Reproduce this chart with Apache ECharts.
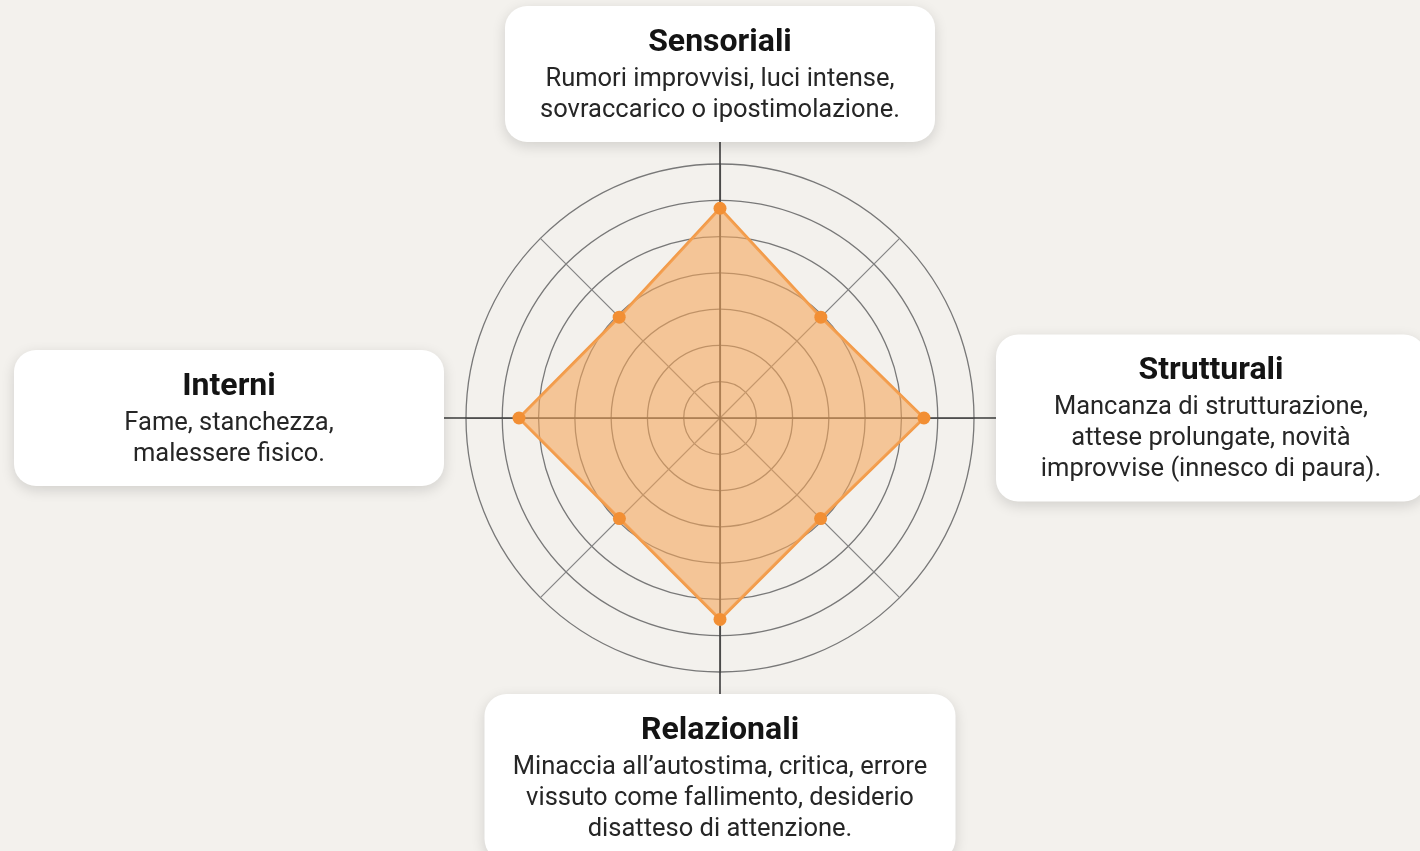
<!DOCTYPE html>
<html>
<head>
<meta charset="utf-8">
<title>Fattori scatenanti</title>
<script src="https://cdn.jsdelivr.net/npm/echarts@6/dist/echarts.min.js"></script>
<style>
    html, body { margin: 0; padding: 0; background: #f3f1ed; }
    #chart { width: 1420px; height: 851px; }
</style>
</head>
<body>
<div id="chart"></div>
<script>
// 8 spokes, counterclockwise from the top
const spokes = ['Sensoriali', 'Sensoriali-Interni', 'Interni', 'Interni-Relazionali',
    'Relazionali', 'Relazionali-Strutturali', 'Strutturali', 'Strutturali-Sensoriali'];
const values = [5.78, 3.93, 5.54, 3.92, 5.55, 3.92, 5.62, 3.93];
const maxValue = 7;
const rings = 7;

// the four labelled axes
const titles = ['Sensoriali', 'Interni', 'Relazionali', 'Strutturali'];
const descriptions = {
    'Sensoriali': ['Rumori improvvisi, luci intense,', 'sovraccarico o ipostimolazione.'],
    'Interni': ['Fame, stanchezza,', 'malessere fisico.'],
    'Relazionali': ['Minaccia all\u2019autostima, critica, errore', 'vissuto come fallimento, desiderio', 'disatteso di attenzione.'],
    'Strutturali': ['Mancanza di strutturazione,', 'attese prolungate, novit\u00e0', 'improvvise (innesco di paura).']
};
const wideBoxes = ['Relazionali'];

document.addEventListener('DOMContentLoaded', () => {
    const chart = echarts.init(document.querySelector('#chart'));

    const titleStyle = { fontFamily: 'Roboto', fontWeight: 'bold', fontSize: 32, lineHeight: 43, color: '#141414', align: 'center' };
    const descStyle = { fontFamily: 'Roboto', fontSize: 25.5, lineHeight: 31, color: '#262626', align: 'center' };

    chart.setOption({
        backgroundColor: '#f3f1ed',
        animation: false,
        radar: [{
            center: [720, 418],
            radius: 254,
            startAngle: 90,
            shape: 'circle',
            splitNumber: rings,
            indicator: spokes.map(n => ({ name: n, min: 0, max: maxValue })),
            axisName: { show: false },
            axisLine: { lineStyle: { color: '#858585', width: 1.2 } },
            splitLine: { lineStyle: { color: '#787878', width: 1.3 } },
            splitArea: { show: false },
            axisTick: { show: false },
            axisLabel: { show: false }
        }, {
            center: [720, 418],
            radius: 276,
            startAngle: 90,
            shape: 'circle',
            indicator: titles.map(n => ({ name: n, min: 0, max: maxValue })),
            nameGap: 0,
            axisName: {
                formatter: (name) => {
                    const w = wideBoxes.includes(name) ? 'w' : '';
                    return ['{t' + w + '|' + name + '}']
                        .concat(descriptions[name].map(l => '{d' + w + '|' + l + '}'))
                        .join('\n');
                },
                backgroundColor: '#ffffff',
                borderRadius: 22,
                padding: [15, 0, 16, 0],
                shadowColor: 'rgba(0,0,0,0.14)',
                shadowBlur: 14,
                shadowOffsetY: 4,
                rich: {
                    t: Object.assign({ width: 430 }, titleStyle),
                    d: Object.assign({ width: 430 }, descStyle),
                    tw: Object.assign({ width: 471 }, titleStyle),
                    dw: Object.assign({ width: 471 }, descStyle)
                }
            },
            axisLine: { lineStyle: { color: '#3c3c3c', width: 1.6 } },
            splitLine: { show: false },
            splitArea: { show: false },
            axisTick: { show: false },
            axisLabel: { show: false }
        }],
        series: [{
            type: 'radar',
            radarIndex: 0,
            symbol: 'circle',
            symbolSize: 13,
            itemStyle: { color: '#f28f34' },
            lineStyle: { color: '#f29a48', width: 3 },
            areaStyle: { color: '#f5a55a', opacity: 0.58 },
            data: [{ value: values, name: 'Fattori' }]
        }]
    });
});
</script>
</body>
</html>
